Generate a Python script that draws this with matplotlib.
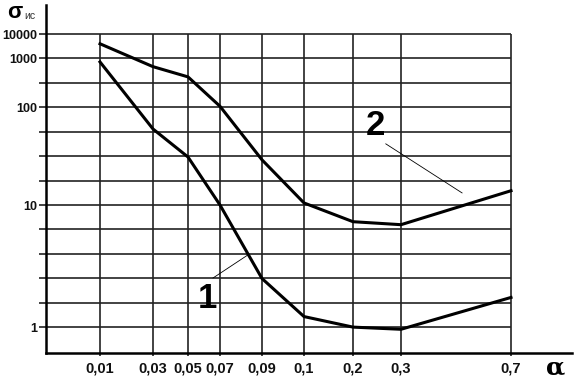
import numpy as np
import matplotlib

matplotlib.use('Agg')
import matplotlib.pyplot as plt

plt.rcParams['font.family'] = ['Liberation Sans', 'DejaVu Sans']

# alpha values on the x axis (printed with a decimal comma)
alpha = [0.01, 0.03, 0.05, 0.07, 0.09, 0.1, 0.2, 0.3, 0.7]
alpha_labels = ['0,01', '0,03', '0,05', '0,07', '0,09', '0,1', '0,2', '0,3', '0,7']

# sigma_ic
curve_1 = [850, 60, 31, 10, 2.5, 1.22, 1.0, 0.96, 1.75]
curve_2 = [4000, 680, 420, 105, 29, 10.5, 7.3, 6.9, 14]

y_labels = [1, 10, 100, 1000, 10000]

# layout of the hand-drawn scales: where each alpha / each decade sits
alpha_pos = [100, 153, 188, 220, 262, 304, 353, 401, 511]
decade_pos = [0, 5, 9, 11, 12]


def piecewise(x, xp, fp):
    x = np.atleast_1d(np.asarray(x, dtype=float))
    y = np.interp(x, xp, fp)
    lo = x < xp[0]
    hi = x > xp[-1]
    y[lo] = fp[0] + (x[lo] - xp[0]) * (fp[1] - fp[0]) / (xp[1] - xp[0])
    y[hi] = fp[-1] + (x[hi] - xp[-1]) * (fp[-1] - fp[-2]) / (xp[-1] - xp[-2])
    return y


def x_fwd(a):
    return piecewise(a, alpha, alpha_pos)


def x_inv(p):
    return piecewise(p, alpha_pos, alpha)


def y_fwd(v):
    with np.errstate(divide='ignore', invalid='ignore'):
        lv = np.log10(np.asarray(v, dtype=float))
    return piecewise(lv, [0, 1, 2, 3, 4], decade_pos)


def y_inv(p):
    return 10 ** piecewise(p, decade_pos, [0, 1, 2, 3, 4])


fig = plt.figure(figsize=(5.79, 3.79), dpi=100)
ax = fig.add_axes([46 / 579, 26 / 379, 526 / 579, 348 / 379])
ax.set_xscale('function', functions=(x_fwd, x_inv))
ax.set_yscale('function', functions=(y_fwd, y_inv))
ax.set_xlim(x_inv(46)[0], x_inv(572)[0])
ax.set_ylim(y_inv(-1.06)[0], y_inv(13.19)[0])

grid_vals = y_inv(np.arange(0, 13))
grid_col = '#222222'
ax.hlines(grid_vals, ax.get_xlim()[0], alpha[-1], color=grid_col, lw=1.2, zorder=1)
ax.vlines(alpha, ax.get_ylim()[0], y_labels[-1], color=grid_col, lw=1.2, zorder=1)

ax.plot(alpha, curve_1, color='black', lw=2.2, solid_joinstyle='round', zorder=3)
ax.plot(alpha, curve_2, color='black', lw=2.2, solid_joinstyle='round', zorder=3)

for s in ['top', 'right']:
    ax.spines[s].set_visible(False)
for s in ['left', 'bottom']:
    ax.spines[s].set_linewidth(1.8)

ax.set_xticks(alpha, alpha_labels, fontsize=10.5, fontweight='bold')
ax.set_yticks(y_labels, [str(v) for v in y_labels], fontsize=9, fontweight='bold')
ax.set_yticks([v for v in grid_vals if round(np.log10(v), 6) % 1 != 0], minor=True)
ax.tick_params(axis='x', length=2.5, width=1.2, color=grid_col, pad=3.5, labelcolor='#111111')
ax.tick_params(axis='y', which='both', length=5, width=1.2, color=grid_col, pad=1.5,
               labelcolor='#111111')
ax.yaxis.set_minor_formatter(plt.NullFormatter())

# curve numbers with thin leader lines
ax.text(0.306, 0.158, '1', transform=ax.transAxes, fontsize=25, fontweight='bold',
        ha='center', va='center')
ax.plot([0.3175, 0.384], [0.2155, 0.282], transform=ax.transAxes, color='black', lw=0.6)
ax.text(0.627, 0.655, '2', transform=ax.transAxes, fontsize=25, fontweight='bold',
        ha='center', va='center')
ax.plot([0.646, 0.791], [0.601, 0.460], transform=ax.transAxes, color='black', lw=0.6)

# axis names
fig.text(15 / 579, 1 - 12 / 379, 'σ', fontsize=16, fontweight='bold', ha='center', va='center')
fig.text(24 / 579, 1 - 16 / 379, 'ис', fontsize=7.5, color='#333333', ha='left', va='center')
fig.text(556 / 579, 1 - 367 / 379, 'α', fontsize=18, fontweight='bold', ha='center',
         va='center', family='DejaVu Serif')

fig.savefig('out.png', dpi=100)
